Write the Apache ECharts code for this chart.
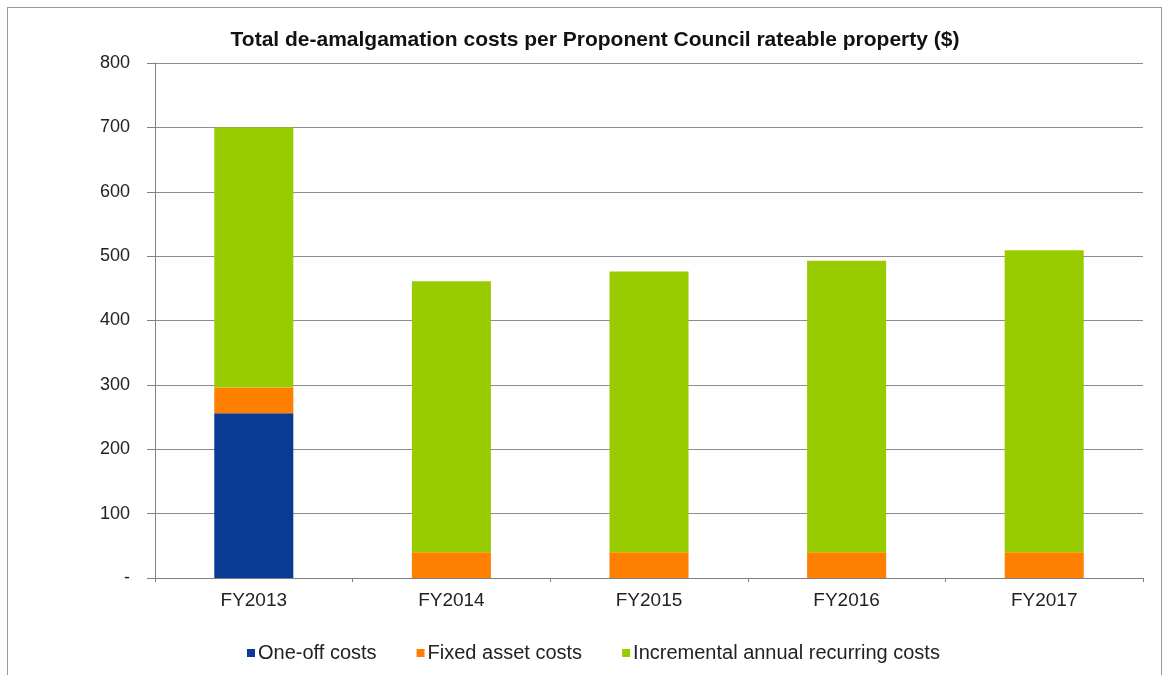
<!DOCTYPE html>
<html>
<head>
<meta charset="utf-8">
<script src="https://cdn.jsdelivr.net/npm/echarts@6/dist/echarts.min.js"></script>
<style>
html,body{margin:0;padding:0;background:#fff;}
#frame{position:absolute;left:7px;top:7px;width:1155px;height:680px;border:1px solid #9a9a9a;box-sizing:border-box;}
#chart{position:absolute;left:0;top:0;width:1165px;height:675px;}
</style>
</head>
<body>
<div id="frame"></div>
<div id="chart"></div>
<script>
const categories = ['FY2013', 'FY2014', 'FY2015', 'FY2016', 'FY2017'];
const oneOffCosts = [256, 0, 0, 0, 0];
const fixedAssetCosts = [40, 40, 40, 40, 40];
const incrementalCosts = [404, 421, 436, 453, 469];
const seriesNames = ['One-off costs', 'Fixed asset costs', 'Incremental annual recurring costs'];
const seriesColors = ['#0a3a94', '#ff8000', '#99cc00'];
const titleText = 'Total de-amalgamation costs per Proponent Council rateable property ($)';

const chart = echarts.init(document.getElementById('chart'), null, {renderer: 'canvas'});
const font = 'Liberation Sans, Arial, sans-serif';
const dataSets = [oneOffCosts, fixedAssetCosts, incrementalCosts];
chart.setOption({
  animation: false,
  title: {
    text: titleText,
    left: 590, top: 25, textAlign: 'center',
    textStyle: {fontFamily: font, fontSize: 21, fontWeight: 'bold', color: '#111'}
  },
  legend: {
    data: seriesNames,
    left: 242, top: 638,
    icon: 'rect', itemWidth: 8, itemHeight: 8, itemGap: 40,
    textStyle: {fontFamily: font, fontSize: 20, color: '#222', padding: [0, 0, 0, -2]}
  },
  grid: {left: 155, right: 22, top: 63, bottom: 97},
  xAxis: {
    type: 'category',
    data: categories,
    axisLine: {lineStyle: {color: '#808080', width: 1}},
    axisTick: {show: true, length: 4, alignWithLabel: false, lineStyle: {color: '#808080'}},
    axisLabel: {fontFamily: font, fontSize: 19, color: '#222', margin: 13}
  },
  yAxis: {
    type: 'value', min: 0, max: 800, interval: 100,
    axisLine: {show: true, lineStyle: {color: '#808080'}},
    axisTick: {show: true, length: 8, lineStyle: {color: '#808080'}},
    axisLabel: {fontFamily: font, fontSize: 18, color: '#222', margin: 25,
      formatter: v => v === 0 ? '-' : String(v)},
    splitLine: {lineStyle: {color: '#8c8c8c', width: 1}}
  },
  series: seriesNames.map((n, i) => ({
    name: n, type: 'bar', stack: 'total', barWidth: '40%',
    data: dataSets[i],
    itemStyle: {color: seriesColors[i]}
  }))
});
</script>
</body>
</html>
